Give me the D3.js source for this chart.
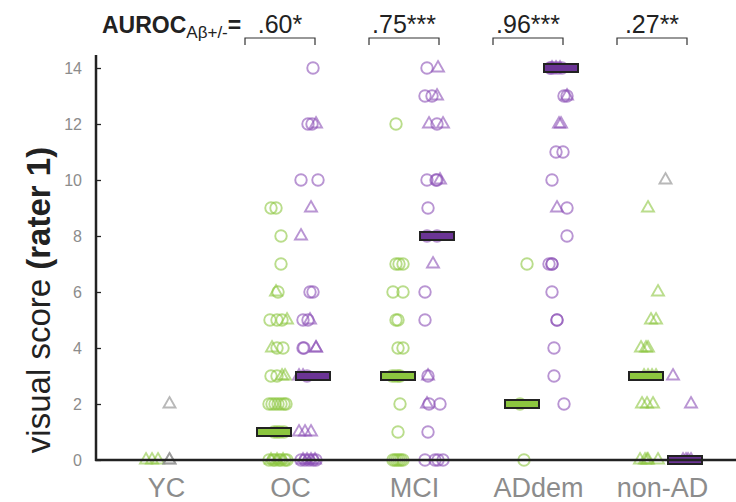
<!DOCTYPE html>
<html>

<head>
	<meta charset="utf-8">
	<script src="https://cdn.jsdelivr.net/npm/d3@7"></script>
	<style>
		body {
			margin: 0;
			background: white;
		}

		text {
			font-family: "Liberation Sans", Arial, sans-serif;
		}
	</style>
</head>

<body>
	<svg></svg>
	<script>
		var width = 736;
		var height = 502;

		// categories and per-group data: [value, jitter (-1..1), shape]
		var categories = ["YC", "OC", "MCI", "ADdem", "non-AD"];
		var aurocLabels = [null, ".60*", ".75***", ".96***", ".27**"];
		var medianNeg = [null, 1, 3, 2, 3];
		var medianPos = [null, 3, 8, 14, 0];
		var yTicks = [0, 2, 4, 6, 8, 10, 12, 14];

		var ycNeg = [[0, -0.2, "t"], [0, 0.1, "t"], [0, 0.4, "t"]];
		var ycUnk = [[2, 0, "t"], [0, 0, "t"], [0, 0, "t"]];

		var ocNeg = [
			[9, -0.15, "o"], [9, 0.1, "o"], [8, 0.35, "o"], [7, 0.35, "o"],
			[6, 0.1, "t"], [6, 0.2, "o"],
			[5, -0.2, "o"], [5, 0.15, "o"], [5, 0.4, "o"], [5, 0.65, "t"],
			[4, -0.1, "t"], [4, 0.15, "o"], [4, 0.45, "o"],
			[3, -0.15, "o"], [3, 0.15, "o"], [3, 0.4, "t"], [3, 0.55, "t"],
			[2, -0.25, "o"], [2, -0.1, "o"], [2, 0.05, "o"], [2, 0.2, "o"], [2, 0.35, "o"], [2, 0.5, "o"], [2, 0.6, "o"],
			[1, 0, "o"], [1, 0.15, "o"], [1, 0.3, "o"], [1, 0.5, "o"],
			[0, -0.25, "o"], [0, -0.15, "t"], [0, -0.05, "o"], [0, 0.05, "o"], [0, 0.15, "t"],
			[0, 0.25, "o"], [0, 0.35, "o"], [0, 0.45, "t"], [0, 0.55, "o"], [0, 0.65, "o"]
		];
		var ocPos = [
			[14, 0, "o"],
			[12, -0.25, "o"], [12, -0.05, "o"], [12, 0.15, "t"],
			[10, -0.6, "o"], [10, 0.25, "o"],
			[9, -0.1, "t"], [8, -0.6, "t"],
			[6, -0.15, "o"], [6, 0, "o"],
			[5, -0.5, "o"], [5, -0.25, "o"], [5, -0.15, "t"],
			[4, -0.5, "o"], [4, -0.45, "o"], [4, 0.15, "t"], [4, 0.15, "t"],
			[3, -0.7, "t"], [3, -0.5, "t"], [3, -0.3, "o"],
			[1, -0.7, "t"], [1, -0.4, "t"], [1, -0.1, "t"],
			[0, -0.6, "o"], [0, -0.5, "t"], [0, -0.4, "o"], [0, -0.3, "t"], [0, -0.2, "o"],
			[0, -0.1, "t"], [0, 0, "o"], [0, 0.1, "t"], [0, 0.15, "o"]
		];

		var mciNeg = [
			[12, -0.1, "o"],
			[7, -0.1, "o"], [7, 0.05, "o"], [7, 0.25, "o"],
			[6, -0.25, "o"], [6, 0.25, "o"],
			[5, -0.1, "o"], [5, 0, "o"],
			[4, 0, "o"], [4, 0.25, "o"],
			[3, -0.3, "o"], [3, -0.15, "o"], [3, 0, "o"], [3, 0.1, "o"],
			[2, 0.1, "o"], [1, 0, "o"],
			[0, -0.25, "o"], [0, -0.15, "o"], [0, -0.05, "o"], [0, 0.05, "o"], [0, 0.15, "o"], [0, 0.25, "o"]
		];
		var mciPos = [
			[14, -0.5, "o"], [14, 0.05, "t"],
			[13, -0.6, "o"], [13, -0.25, "o"], [13, 0, "t"],
			[12, -0.4, "t"], [12, 0, "o"], [12, 0.3, "t"],
			[10, -0.5, "o"], [10, -0.05, "o"], [10, 0, "o"], [10, 0.15, "t"],
			[9, -0.45, "o"],
			[8, -0.5, "o"], [8, 0, "o"],
			[7, -0.2, "t"], [6, -0.6, "o"], [5, -0.6, "o"],
			[3, -0.45, "t"], [3, -0.45, "o"],
			[2, -0.5, "t"], [2, -0.4, "o"], [2, 0.15, "o"],
			[1, -0.45, "o"],
			[0, -0.6, "o"], [0, -0.1, "o"], [0, 0.05, "o"], [0, 0.3, "o"]
		];

		var addemNeg = [[7, 0.25, "o"], [2, -0.1, "o"], [0, 0.1, "o"]];
		var addemPos = [
			[14, -0.55, "o"], [14, -0.5, "o"], [14, -0.45, "t"], [14, -0.35, "o"], [14, -0.25, "t"],
			[14, -0.15, "o"], [14, -0.05, "t"], [14, 0.05, "o"],
			[13, 0.15, "o"], [13, 0.3, "o"], [13, 0.3, "t"],
			[12, -0.1, "t"], [12, 0, "t"],
			[11, -0.25, "o"], [11, 0.1, "o"],
			[10, -0.45, "o"],
			[9, -0.2, "t"], [9, 0.3, "o"],
			[8, 0.3, "o"],
			[7, -0.6, "o"], [7, -0.45, "o"], [7, -0.45, "o"],
			[6, -0.45, "o"],
			[5, -0.2, "o"], [5, -0.2, "o"],
			[4, -0.35, "o"], [3, -0.35, "o"], [2, 0.15, "o"]
		];

		var nonadNeg = [
			[9, 0.1, "t"], [6, 0.6, "t"],
			[5, 0.25, "t"], [5, 0.5, "t"],
			[4, -0.25, "t"], [4, 0, "t"], [4, 0.1, "t"],
			[3, -0.1, "t"], [3, 0.1, "t"], [3, 0.3, "t"], [3, 0.5, "t"],
			[2, -0.2, "t"], [2, 0.05, "t"], [2, 0.35, "t"],
			[0, -0.3, "t"], [0, -0.05, "t"], [0, 0.05, "t"], [0, 0.1, "t"], [0, 0.6, "t"]
		];
		var nonadPos = [[3, -0.6, "t"], [2, 0.3, "t"], [0, -0.1, "t"], [0, 0.05, "t"], [0, 0.15, "t"], [0, 0.3, "t"]];
		var nonadUnk = [[10, 0, "t"]];

		var groupData = [
			["YC", "neg", ycNeg], ["YC", "unk", ycUnk],
			["OC", "neg", ocNeg], ["OC", "pos", ocPos],
			["MCI", "neg", mciNeg], ["MCI", "pos", mciPos],
			["ADdem", "neg", addemNeg], ["ADdem", "pos", addemPos],
			["non-AD", "neg", nonadNeg], ["non-AD", "pos", nonadPos], ["non-AD", "unk", nonadUnk]
		];

		var colors = { neg: "#8cc63f", pos: "#8a4fb5", unk: "#888888" };
		var barFill = { neg: "#8cc63f", pos: "#6b3495" };
		var groupOffset = { neg: -19.5, pos: 19.5, unk: 0 };

		var svg = d3.select("svg")
			.attr("width", width)
			.attr("height", height);

		var x = d3.scalePoint()
			.domain(categories)
			.range([169.5, 665.5]);
		var jitter = d3.scaleLinear()
			.domain([-1, 1])
			.range([-20, 20]);
		var y = d3.scaleLinear()
			.domain([0, 14])
			.range([460, 68]);

		// flatten the points
		var points = [];
		groupData.forEach(function (g) {
			g[2].forEach(function (p) {
				points.push({ cat: g[0], grp: g[1], value: p[0], jit: p[1], shape: p[2] });
			});
		});

		var tri = d3.symbol().type(d3.symbolTriangle).size(62);
		var circ = d3.symbol().type(d3.symbolCircle).size(104);

		var marks = svg.append("g");
		marks.selectAll("path")
			.data(points)
			.enter()
			.append("path")
			.attr("d", function (d) { return d.shape == "t" ? tri() : circ(); })
			.attr("transform", function (d) {
				var px = x(d.cat) + groupOffset[d.grp] + jitter(d.jit);
				return "translate(" + px + "," + y(d.value) + ")";
			})
			.attr("fill", "none")
			.attr("stroke", function (d) { return colors[d.grp]; })
			.attr("stroke-width", 1.9)
			.attr("stroke-opacity", 0.6);

		// median bars
		var medians = [];
		categories.forEach(function (c, i) {
			if (medianNeg[i] != null) medians.push({ cat: c, grp: "neg", value: medianNeg[i] });
			if (medianPos[i] != null) medians.push({ cat: c, grp: "pos", value: medianPos[i] });
		});
		svg.append("g").selectAll("rect")
			.data(medians)
			.enter()
			.append("rect")
			.attr("x", function (d) { return x(d.cat) + groupOffset[d.grp] - 17; })
			.attr("y", function (d) { return y(d.value) - 4; })
			.attr("width", 34)
			.attr("height", 8)
			.attr("fill", function (d) { return barFill[d.grp]; })
			.attr("stroke", "#222")
			.attr("stroke-width", 2);

		// axes
		var yAxis = svg.append("g")
			.attr("transform", "translate(96,0)")
			.call(d3.axisLeft(y).tickValues(yTicks).tickSizeInner(-5).tickSizeOuter(0).tickPadding(14));
		yAxis.select(".domain").remove();
		yAxis.selectAll(".tick line").attr("stroke", "#222").attr("stroke-width", 1.3);
		yAxis.selectAll(".tick text")
			.attr("fill", "#8c8c8c")
			.style("font-size", "16px")
			.style("font-family", "'Liberation Sans', Arial, sans-serif");

		svg.append("line")
			.attr("x1", 96).attr("x2", 96)
			.attr("y1", 55).attr("y2", 461)
			.attr("stroke", "#222").attr("stroke-width", 2.5);
		svg.append("line")
			.attr("x1", 95).attr("x2", width)
			.attr("y1", y(0)).attr("y2", y(0))
			.attr("stroke", "#222").attr("stroke-width", 2.5);

		svg.append("g").selectAll("text")
			.data(categories)
			.enter()
			.append("text")
			.attr("x", function (d) { return x(d) - 3; })
			.attr("y", 497)
			.attr("text-anchor", "middle")
			.attr("fill", "#8c8c8c")
			.style("font-size", "27px")
			.text(function (d) { return d; });

		// y title
		var yt = svg.append("text")
			.attr("transform", "translate(50,300) rotate(-90)")
			.attr("text-anchor", "middle")
			.attr("fill", "#222")
			.style("font-size", "33px");
		yt.append("tspan").text("visual score ");
		yt.append("tspan").style("font-weight", "bold").text("(rater 1)");

		// AUROC header
		var head = svg.append("text")
			.attr("x", 102)
			.attr("y", 33)
			.attr("fill", "#222");
		head.append("tspan").style("font-weight", "bold").style("font-size", "23px").text("AUROC");
		head.append("tspan").style("font-size", "17px").attr("dy", 5).text("Aβ+/-");
		head.append("tspan").style("font-weight", "bold").style("font-size", "23px").attr("dy", -5).text("=");

		var brackets = categories.map(function (c, i) {
			return { cat: c, label: aurocLabels[i] };
		}).filter(function (d) { return d.label != null; });

		var bg = svg.append("g").selectAll("g")
			.data(brackets)
			.enter()
			.append("g")
			.attr("transform", function (d) { return "translate(" + (x(d.cat) + groupOffset.pos + 2) + ",0)"; });
		bg.append("path")
			.attr("d", "M-70,45V38H0V45")
			.attr("fill", "none")
			.attr("stroke", "#333")
			.attr("stroke-width", 1.2);
		bg.append("text")
			.attr("x", -35)
			.attr("y", 33)
			.attr("text-anchor", "middle")
			.attr("fill", "#222")
			.style("font-size", "25px")
			.text(function (d) { return d.label; });
	</script>
</body>

</html>
